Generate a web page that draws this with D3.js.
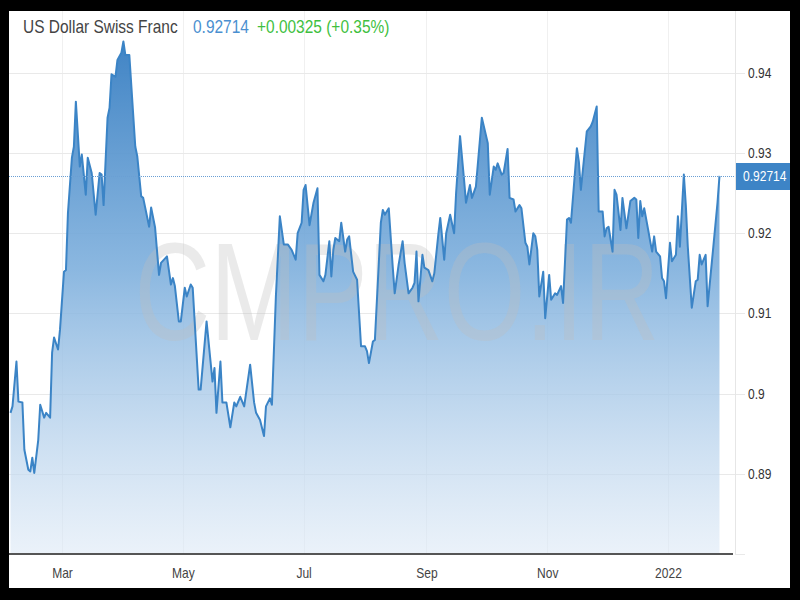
<!DOCTYPE html>
<html><head><meta charset="utf-8">
<script src="https://cdn.jsdelivr.net/npm/d3@7"></script>
<style>
html,body{margin:0;padding:0;background:#000;}
svg{display:block;}
text{font-family:'Liberation Sans',Arial,sans-serif;}
</style></head>
<body>
<svg id="c" width="800" height="600"></svg>
<script>
const titleText = "US Dollar Swiss Franc";
const lastText = "0.92714";
const changeText = "+0.00325 (+0.35%)";
const watermark = "CMPRO.IR";
const lastValue = 0.92714;
const yTicks = [0.89, 0.90, 0.91, 0.92, 0.93, 0.94];
const yTickLabels = ["0.89", "0.9", "0.91", "0.92", "0.93", "0.94"];
const xTickLabels = ["Mar", "May", "Jul", "Sep", "Nov", "2022"];

const dates = [
"2021-02-03","2021-02-04","2021-02-06","2021-02-07","2021-02-09","2021-02-10","2021-02-12","2021-02-13","2021-02-14","2021-02-15",
"2021-02-17","2021-02-18","2021-02-20","2021-02-21","2021-02-23","2021-02-24","2021-02-25","2021-02-27","2021-02-28","2021-03-02",
"2021-03-03","2021-03-04","2021-03-06","2021-03-07","2021-03-08","2021-03-10","2021-03-11","2021-03-13","2021-03-14","2021-03-16",
"2021-03-18","2021-03-20","2021-03-21","2021-03-22","2021-03-24","2021-03-25","2021-03-26","2021-03-28","2021-03-29","2021-03-31",
"2021-04-01","2021-04-02","2021-04-04","2021-04-07","2021-04-08","2021-04-10","2021-04-11","2021-04-14","2021-04-15","2021-04-17",
"2021-04-19","2021-04-20","2021-04-23","2021-04-25","2021-04-26","2021-04-27","2021-04-29","2021-04-30","2021-05-02","2021-05-03",
"2021-05-05","2021-05-06","2021-05-09","2021-05-10","2021-05-13","2021-05-16","2021-05-17","2021-05-18","2021-05-20","2021-05-21",
"2021-05-23","2021-05-25","2021-05-27","2021-05-28","2021-05-30","2021-06-01","2021-06-04","2021-06-06","2021-06-07","2021-06-09",
"2021-06-11","2021-06-12","2021-06-14","2021-06-15","2021-06-17","2021-06-19","2021-06-21","2021-06-23","2021-06-25","2021-06-27",
"2021-06-28","2021-06-30","2021-07-01","2021-07-02","2021-07-04","2021-07-06","2021-07-08","2021-07-09","2021-07-11","2021-07-12",
"2021-07-14","2021-07-15","2021-07-16","2021-07-17","2021-07-19","2021-07-20","2021-07-22","2021-07-23","2021-07-24","2021-07-26",
"2021-07-28","2021-07-30","2021-08-01","2021-08-02","2021-08-03","2021-08-05","2021-08-06","2021-08-09","2021-08-10","2021-08-11",
"2021-08-13","2021-08-15","2021-08-16","2021-08-18","2021-08-20","2021-08-21","2021-08-23","2021-08-25","2021-08-26","2021-08-27",
"2021-08-28","2021-08-30","2021-08-31","2021-09-02","2021-09-04","2021-09-05","2021-09-07","2021-09-08","2021-09-10","2021-09-11",
"2021-09-13","2021-09-15","2021-09-16","2021-09-18","2021-09-20","2021-09-21","2021-09-23","2021-09-24","2021-09-26","2021-09-29",
"2021-10-02","2021-10-03","2021-10-05","2021-10-06","2021-10-07","2021-10-09","2021-10-10","2021-10-12","2021-10-13","2021-10-15",
"2021-10-16","2021-10-18","2021-10-19","2021-10-21","2021-10-22","2021-10-23","2021-10-25","2021-10-26","2021-10-27","2021-10-28",
"2021-10-30","2021-10-31","2021-11-02","2021-11-03","2021-11-05","2021-11-06","2021-11-08","2021-11-09","2021-11-11","2021-11-12",
"2021-11-13","2021-11-16","2021-11-17","2021-11-18","2021-11-21","2021-11-23","2021-11-24","2021-11-26","2021-11-27","2021-11-29",
"2021-11-30","2021-12-01","2021-12-02","2021-12-04","2021-12-05","2021-12-06","2021-12-08","2021-12-09","2021-12-11","2021-12-13",
"2021-12-15","2021-12-16","2021-12-17","2021-12-18","2021-12-19","2021-12-20","2021-12-22","2021-12-23","2021-12-24","2021-12-25",
"2021-12-26","2021-12-28","2021-12-29","2021-12-30","2021-12-31","2022-01-02","2022-01-03","2022-01-05","2022-01-06","2022-01-07",
"2022-01-09","2022-01-10","2022-01-11","2022-01-13","2022-01-15","2022-01-16","2022-01-17","2022-01-18","2022-01-20","2022-01-21",
"2022-01-24","2022-01-26","2022-01-27"];

const values = [
0.8976,0.8984,0.9040,0.8990,0.8989,0.8930,0.8905,0.8903,0.8920,0.8901,
0.8942,0.8986,0.8970,0.8976,0.8970,0.9051,0.9070,0.9055,0.9080,0.9152,
0.9154,0.9225,0.9294,0.9308,0.9364,0.9283,0.9298,0.9248,0.9294,0.9275,
0.9223,0.9275,0.9273,0.9235,0.9344,0.9356,0.9398,0.9395,0.9416,0.9425,
0.9439,0.9422,0.9422,0.9308,0.9296,0.9246,0.9244,0.9208,0.9232,0.9207,
0.9148,0.9163,0.9171,0.9136,0.9144,0.9134,0.9090,0.9090,0.9132,0.9121,
0.9136,0.9132,0.9005,0.9005,0.9090,0.9015,0.9032,0.8976,0.9040,0.8989,
0.8989,0.8958,0.8989,0.8984,0.8996,0.8984,0.9036,0.8989,0.8976,0.8967,
0.8947,0.8984,0.8994,0.8986,0.9121,0.9221,0.9186,0.9186,0.9179,0.9167,
0.9200,0.9213,0.9254,0.9260,0.9210,0.9238,0.9256,0.9148,0.9140,0.9148,
0.9190,0.9146,0.9179,0.9194,0.9190,0.9213,0.9177,0.9192,0.9196,0.9152,
0.9142,0.9059,0.9059,0.9053,0.9038,0.9065,0.9067,0.9213,0.9229,0.9223,
0.9231,0.9158,0.9125,0.9161,0.9190,0.9163,0.9125,0.9132,0.9138,0.9177,
0.9115,0.9173,0.9157,0.9154,0.9140,0.9150,0.9198,0.9219,0.9167,0.9200,
0.9223,0.9200,0.9250,0.9321,0.9267,0.9238,0.9260,0.9244,0.9258,0.9344,
0.9312,0.9248,0.9283,0.9279,0.9287,0.9273,0.9275,0.9305,0.9244,0.9242,
0.9227,0.9235,0.9231,0.9188,0.9183,0.9161,0.9200,0.9196,0.9179,0.9121,
0.9152,0.9094,0.9148,0.9117,0.9125,0.9123,0.9134,0.9113,0.9217,0.9219,
0.9213,0.9306,0.9289,0.9254,0.9327,0.9333,0.9339,0.9358,0.9227,0.9227,
0.9196,0.9206,0.9208,0.9177,0.9254,0.9248,0.9204,0.9244,0.9206,0.9240,
0.9244,0.9242,0.9194,0.9240,0.9221,0.9231,0.9204,0.9190,0.9177,0.9196,
0.9177,0.9171,0.9144,0.9140,0.9119,0.9188,0.9165,0.9173,0.9221,0.9183,
0.9273,0.9235,0.9183,0.9107,0.9140,0.9142,0.9173,0.9161,0.9173,0.9109,
0.9186,0.9238,0.92714];

const parse = d3.timeParse("%Y-%m-%d");
const data = dates.map((d, i) => ({date: parse(d), value: values[i]}));

const svg = d3.select("#c");
const L = 9, R = 735, T = 11, B = 554;
const NARROW = 0.86;

svg.append("rect").attr("x", 0).attr("y", 0).attr("width", 800).attr("height", 600).attr("fill", "#000");
svg.append("rect").attr("x", 9).attr("y", 11).attr("width", 781).attr("height", 577).attr("fill", "#fff");

const x0 = d3.scaleTime().domain([new Date(2021, 2, 1), new Date(2022, 0, 1)]).range([62, 668]);
const x = d3.scaleTime().domain([x0.invert(L), x0.invert(R)]).range([L, R]);
const y = d3.scaleLinear().domain([0.88, 0.9477]).range([B, T]);

const xTicks = d3.timeMonth.every(2).range(x.domain()[0], x.domain()[1]);

// vertical grid
svg.append("g").selectAll("line").data(xTicks).join("line")
  .attr("x1", d => Math.round(x(d)) + 0.5).attr("x2", d => Math.round(x(d)) + 0.5)
  .attr("y1", T).attr("y2", B)
  .attr("stroke", "#f0f0f0").attr("stroke-width", 1);

// horizontal grid
svg.append("g").selectAll("line").data(yTicks).join("line")
  .attr("x1", L).attr("x2", 745)
  .attr("y1", d => Math.round(y(d)) + 0.5).attr("y2", d => Math.round(y(d)) + 0.5)
  .attr("stroke", "#e9e9e9").attr("stroke-width", 1);
svg.append("line").attr("x1", R).attr("x2", 745).attr("y1", B + 0.5).attr("y2", B + 0.5)
  .attr("stroke", "#e9e9e9");

// y axis line
svg.append("line").attr("x1", R + 0.5).attr("x2", R + 0.5).attr("y1", T).attr("y2", B)
  .attr("stroke", "#e6e6e6");

// gradient
const defs = svg.append("defs");
const grad = defs.append("linearGradient").attr("id", "g1")
  .attr("gradientUnits", "userSpaceOnUse").attr("x1", 0).attr("x2", 0).attr("y1", 40).attr("y2", B);
grad.append("stop").attr("offset", 0).attr("stop-color", "#3a80c3").attr("stop-opacity", 0.97);
grad.append("stop").attr("offset", 0.45).attr("stop-color", "#7fb0dd").attr("stop-opacity", 0.9);
grad.append("stop").attr("offset", 1).attr("stop-color", "#dde9f6").attr("stop-opacity", 0.6);

const area = d3.area().x(d => x(d.date)).y0(B).y1(d => y(d.value));
const line = d3.line().x(d => x(d.date)).y(d => y(d.value));

svg.append("path").datum(data).attr("d", area).attr("fill", "url(#g1)");

// watermark (stretched vertically to mimic the tall, narrow face)
svg.append("text").attr("class", "wm")
  .attr("transform", "translate(397,340) scale(1,1.32)")
  .attr("text-anchor", "middle")
  .attr("font-size", 105)
  .attr("fill", "rgba(190,190,190,0.32)").text(watermark);

svg.append("path").datum(data).attr("d", line).attr("fill", "none")
  .attr("stroke", "#3b84c6").attr("stroke-width", 2).attr("stroke-linejoin", "round");

// last value dotted line
svg.append("line").attr("x1", L).attr("x2", R).attr("y1", Math.round(y(lastValue)) + 0.5).attr("y2", Math.round(y(lastValue)) + 0.5)
  .attr("stroke", "#6a9fd4").attr("stroke-width", 1).attr("stroke-dasharray", "1,1");

// x axis line
svg.append("line").attr("x1", L).attr("x2", 733).attr("y1", B).attr("y2", B)
  .attr("stroke", "#555").attr("stroke-width", 2);

// x axis labels
const xAxis = d3.axisBottom(x).tickValues(xTicks).tickSize(0).tickPadding(0)
  .tickFormat((d, i) => xTickLabels[i]);
const gx = svg.append("g").attr("transform", `translate(0,${B})`).call(xAxis);
gx.select(".domain").remove();
gx.selectAll("text").attr("class", "nar").attr("dy", 0).attr("y", 24).attr("fill", "#444").attr("font-size", 14)
  .style("font-family", "'Liberation Sans',Arial,sans-serif");

// y labels
const yAxis = d3.axisRight(y).tickValues(yTicks).tickSize(0).tickPadding(0)
  .tickFormat((d, i) => yTickLabels[i]);
const gy = svg.append("g").attr("transform", `translate(748,0)`).call(yAxis);
gy.select(".domain").remove();
gy.selectAll("text").attr("class", "nar").attr("fill", "#333").attr("font-size", 14)
  .style("font-family", "'Liberation Sans',Arial,sans-serif");

// last value label
svg.append("rect").attr("x", R + 1).attr("y", Math.round(y(lastValue)) - 13).attr("width", 790 - R - 1).attr("height", 27)
  .attr("fill", "#3d84c6");
svg.append("text").attr("class", "nar").attr("x", 743).attr("y", y(lastValue)).attr("dy", "0.35em")
  .attr("fill", "#fff").attr("font-size", 14).text(lastText);

// header
svg.append("text").attr("class", "nar").attr("x", 23).attr("y", 33).attr("font-size", 18).attr("fill", "#444").text(titleText);
svg.append("text").attr("class", "nar").attr("x", 193).attr("y", 33).attr("font-size", 18).attr("fill", "#4a8fd0").text(lastText);
svg.append("text").attr("class", "nar").attr("x", 257).attr("y", 33).attr("font-size", 18).attr("fill", "#3fbf3f").text(changeText);

// narrow the Arial-metric glyphs horizontally to match the condensed face of the original
svg.selectAll("text.nar").each(function() {
  const t = d3.select(this);
  const tx = +t.attr("x") || 0, ty = +t.attr("y") || 0;
  t.attr("x", 0).attr("y", 0)
   .attr("transform", `translate(${tx},${ty}) scale(${NARROW},1)`);
});
</script>
</body></html>
